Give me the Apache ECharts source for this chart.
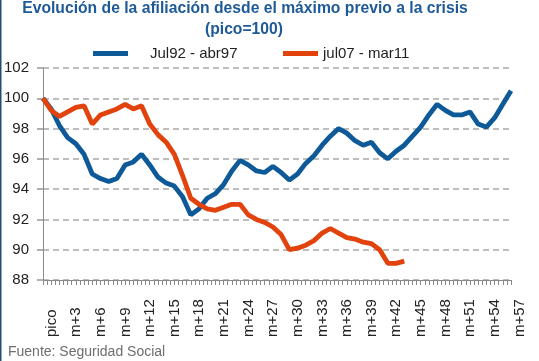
<!DOCTYPE html>
<html>
<head>
<meta charset="utf-8">
<script src="https://cdn.jsdelivr.net/npm/echarts@6/dist/echarts.min.js"></script>
<style>
html,body{margin:0;padding:0;background:#fff;}
#c{width:539px;height:361px;}
</style>
</head>
<body>
<div id="c"></div>
<script>
var tickLabels = ['pico','m+3','m+6','m+9','m+12','m+15','m+18','m+21','m+24','m+27','m+30','m+33','m+36','m+39','m+42','m+45','m+48','m+51','m+54','m+57'];
var seriesNames = ['Jul92 - abr97', 'jul07 - mar11'];
var jul92 = [100.0,99.3,98.2,97.4,97.0,96.3,95.0,94.7,94.5,94.7,95.6,95.8,96.3,95.6,94.8,94.4,94.2,93.5,92.3,92.7,
  93.4,93.7,94.3,95.2,95.9,95.6,95.2,95.1,95.5,95.1,94.6,95.0,95.7,96.2,96.9,97.5,98.0,97.7,97.2,96.9,
  97.1,96.4,96.0,96.5,96.9,97.5,98.1,98.9,99.6,99.2,98.9,98.9,99.1,98.3,98.1,98.7,99.6,100.5];
var jul07 = [100.0,99.2,98.8,99.1,99.4,99.5,98.3,98.9,99.1,99.3,99.6,99.3,99.5,98.3,97.6,97.1,96.3,94.9,93.4,93.0,
  92.7,92.6,92.8,93.0,93.0,92.3,92.0,91.8,91.5,91.0,90.0,90.1,90.3,90.6,91.1,91.4,91.1,90.8,90.7,90.5,
  90.4,90.0,89.1,89.1,89.25];

function pairs(arr){ return arr.map(function(v,i){ return [i, v]; }); }

var font = "'Liberation Sans', Arial, sans-serif";
var chart = echarts.init(document.getElementById('c'), null, {renderer:'canvas'});
chart.setOption({
  animation: false,
  textStyle: {fontFamily: font},
  graphic: [
    {type:'rect', left:0, top:0, shape:{width:1.5, height:361}, style:{fill:'#1f4e79'}},
    {type:'text', x:245, y:9, style:{text:'Evolución de la afiliación desde el máximo previo a la crisis', font:"bold 15.7px 'Liberation Sans', Arial", fill:'#1d5a97', textAlign:'center', textVerticalAlign:'middle'}},
    {type:'text', x:244, y:30, style:{text:'(pico=100)', font:"bold 15.7px 'Liberation Sans', Arial", fill:'#1d5a97', textAlign:'center', textVerticalAlign:'middle'}},
    {type:'text', x:8, y:352, style:{text:'Fuente: Seguridad Social', font:"14px 'Liberation Sans', Arial", fill:'#6e6e6e', textAlign:'left', textVerticalAlign:'middle'}}
  ],
  legend: [
    {data:[seriesNames[0]], left:93, top:46, padding:0, icon:'rect', itemWidth:35, itemHeight:5,
     textStyle:{fontSize:15, color:'#222', padding:[0,0,0,17], fontFamily:font}},
    {data:[seriesNames[1]], left:283, top:46, padding:0, icon:'rect', itemWidth:35, itemHeight:5,
     textStyle:{fontSize:15, color:'#222', fontFamily:font}}
  ],
  grid: {left:43, right:28, top:68, bottom:81, containLabel:false},
  xAxis: {
    type:'value', min:0, max:57, interval:3,
    axisLine:{show:true, lineStyle:{color:'#8a8a8a', width:1}},
    axisTick:{show:true, length:5, lineStyle:{color:'#8a8a8a', width:1}},
    minorTick:{show:true, splitNumber:6, length:5, lineStyle:{color:'#8a8a8a', width:1}},
    splitLine:{show:false},
    axisLabel:{rotate:90, align:'left', verticalAlign:'top', lineHeight:17, margin:57, fontSize:15, color:'#222', fontFamily:font,
      formatter:function(v){ return tickLabels[Math.round(v/3)]; }}
  },
  yAxis: {
    type:'value', min:88, max:102, interval:2,
    axisLine:{show:true, lineStyle:{color:'#8a8a8a', width:1}},
    axisTick:{show:true, length:6, lineStyle:{color:'#b0b0b0', width:2}},
    splitLine:{show:true, lineStyle:{color:'#bdbdbd', width:1.8, type:[6,4]}},
    axisLabel:{fontSize:15, color:'#222', margin:14, fontFamily:font}
  },
  series: [
    {name:seriesNames[0], type:'line', data:pairs(jul92), showSymbol:false, symbol:'none',
     lineStyle:{color:'#0e5a98', width:4.8}, itemStyle:{color:'#0e5a98'}},
    {name:seriesNames[1], type:'line', data:pairs(jul07), showSymbol:false, symbol:'none',
     lineStyle:{color:'#e2420c', width:4.8}, itemStyle:{color:'#e2420c'}}
  ]
});
</script>
</body>
</html>
